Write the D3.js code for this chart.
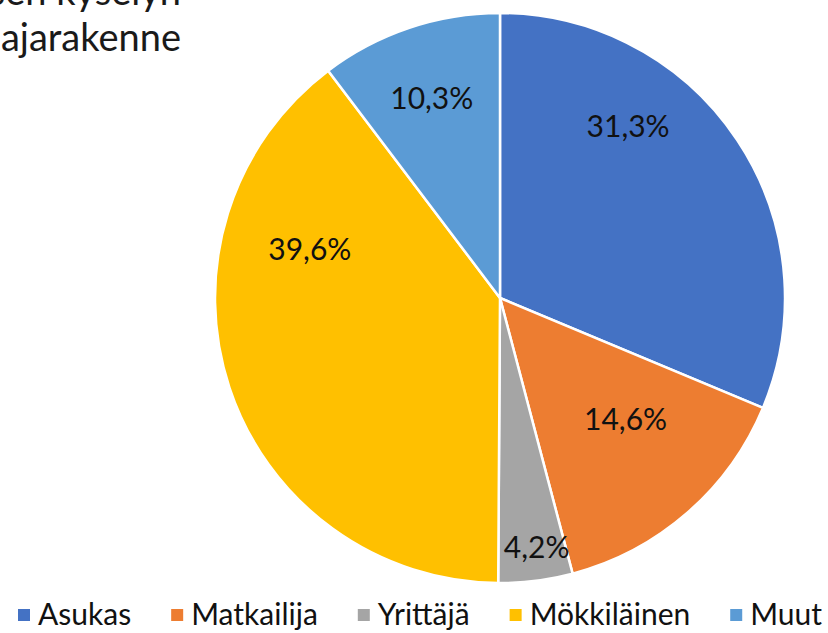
<!DOCTYPE html>
<html>
<head>
<meta charset="utf-8">
<script src="https://cdn.jsdelivr.net/npm/d3@7"></script>
<style>
  body { margin: 0; background: #fff; }
  svg { display: block; font-family: Lato, "Open Sans", sans-serif; }
  .title { font-size: 38px; fill: #1a1a1a; }
  .pct { font-size: 30px; fill: #111; }
  .legendtext { font-size: 30px; fill: #111; }
</style>
</head>
<body>
<div id="chart"></div>
<script>
const categories = ['Asukas', 'Matkailija', 'Yrittäjä', 'Mökkiläinen', 'Muut'];
const shares = [31.3, 14.6, 4.2, 39.6, 10.3];
const colors = ['#4472C4', '#ED7D31', '#A5A5A5', '#FFC000', '#5B9BD5'];
const titleLines = ['Ensimmäisen kyselyn', 'vastaajarakenne'];

// label placement (Excel "best fit"): angle shift in degrees, radius as share of pie radius
const labelShift = [-19.8, -5.2, -1.2, 33.1, -0.2];
const labelRadius = [0.755, 0.61, 0.88, 0.69, 0.745];

const width = 828, height = 633;
const cx = 500, cy = 298, radius = 285;

let svg = d3.select('#chart').append('svg')
  .attr('width', width)
  .attr('height', height);

// title, cut off by the window edge like the original
svg.append('g').selectAll('text')
  .data(titleLines)
  .enter().append('text')
  .attr('class', 'title')
  .attr('text-anchor', 'end')
  .attr('x', 181)
  .attr('y', (d, i) => 5 + i * 46)
  .text(d => d);

let pie = d3.pie().sort(null).value(d => d);
let arcs = pie(shares);

let arc = d3.arc().innerRadius(0).outerRadius(radius);

let g = svg.append('g').attr('transform', `translate(${cx},${cy})`);

g.selectAll('path')
  .data(arcs)
  .enter().append('path')
  .attr('d', arc)
  .attr('fill', (d, i) => colors[i])
  .attr('stroke', '#fff')
  .attr('stroke-width', 2.5)
  .attr('stroke-linejoin', 'round');

g.selectAll('text.pct')
  .data(arcs)
  .enter().append('text')
  .attr('class', 'pct')
  .attr('text-anchor', 'middle')
  .attr('dominant-baseline', 'central')
  .attr('transform', (d, i) => {
    let a = (d.startAngle + d.endAngle) / 2 + labelShift[i] * Math.PI / 180;
    let r = radius * labelRadius[i];
    return `translate(${r * Math.sin(a)},${-r * Math.cos(a)})`;
  })
  .text(d => d3.format('.1f')(d.data).replace('.', ',') + '%');

// legend
let legend = svg.append('g').attr('transform', 'translate(0,615)');
let lx = 18;
categories.forEach((c, i) => {
  let item = legend.append('g').attr('transform', `translate(${lx},0)`);
  item.append('rect')
    .attr('x', 0).attr('y', -6)
    .attr('width', 12).attr('height', 12)
    .attr('fill', colors[i]);
  let t = item.append('text')
    .attr('class', 'legendtext')
    .attr('x', 20)
    .attr('y', 10)
    .text(c);
  lx += 20 + t.node().getComputedTextLength() + 40;
});
</script>
</body>
</html>
